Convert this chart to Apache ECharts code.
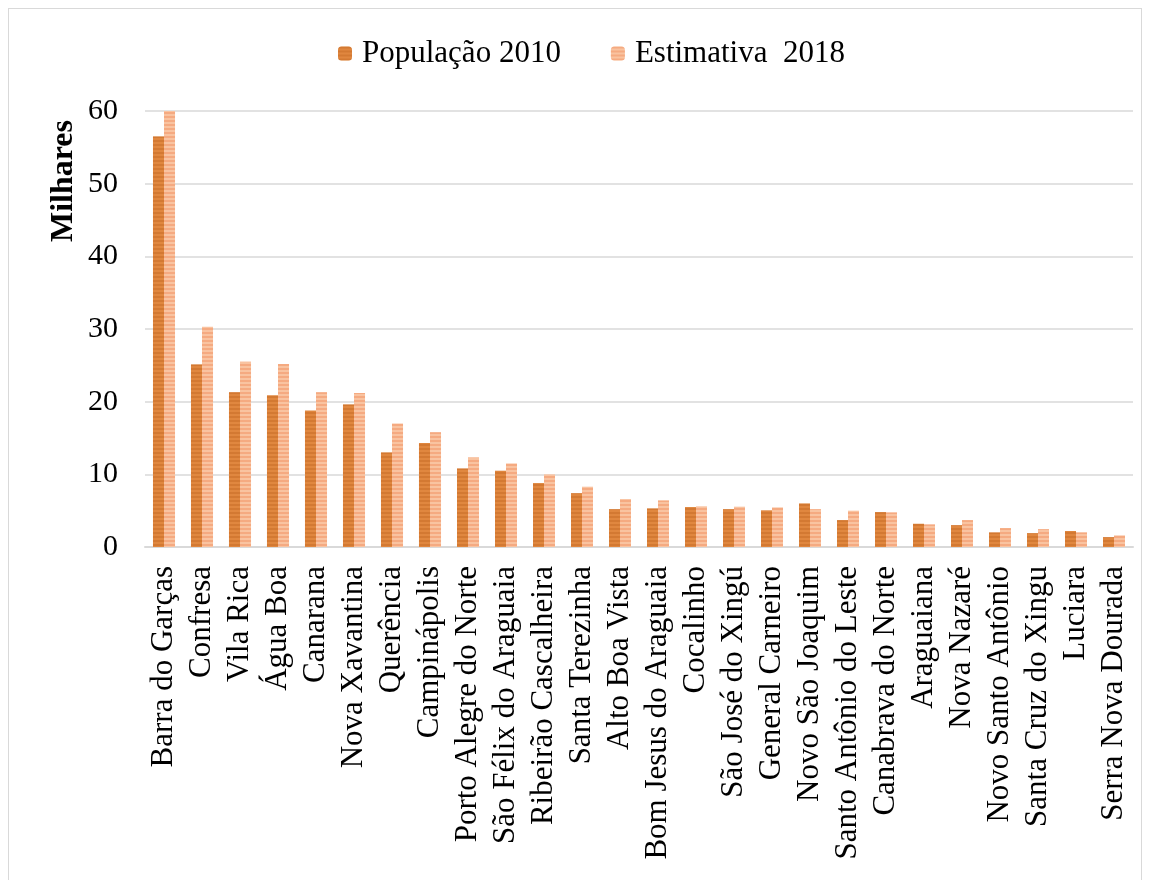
<!DOCTYPE html>
<html>
<head>
<meta charset="utf-8">
<script src="https://cdn.jsdelivr.net/npm/echarts@6/dist/echarts.min.js"></script>
<style>
html,body{margin:0;padding:0;background:#fff;}
#frame{position:absolute;left:8px;top:8px;width:1134px;height:880px;border:1px solid #d9d9d9;box-sizing:border-box;}
#chart{position:absolute;left:0;top:0;width:1150px;height:880px;}
</style>
</head>
<body>
<div id="frame"></div>
<div id="chart"></div>
<script>
const categories = ["Barra do Garças","Confresa","Vila Rica","Água Boa","Canarana","Nova Xavantina","Querência","Campinápolis","Porto Alegre do Norte","São Félix do Araguaia","Ribeirão Cascalheira","Santa Terezinha","Alto Boa Vista","Bom Jesus do Araguaia","Cocalinho","São José do Xingú","General Carneiro","Novo São Joaquim","Santo Antônio do Leste","Canabrava do Norte","Araguaiana","Nova Nazaré","Novo Santo Antônio","Santa Cruz do Xingu","Luciara","Serra Nova Dourada"];
const pop2010 = [56.5,25.1,21.3,20.9,18.8,19.6,13.0,14.3,10.8,10.5,8.8,7.4,5.2,5.3,5.5,5.2,5.05,6.0,3.7,4.8,3.2,3.0,2.0,1.9,2.2,1.35];
const est2018 = [60.1,30.3,25.5,25.2,21.3,21.2,17.0,15.8,12.3,11.5,10.0,8.3,6.6,6.4,5.6,5.55,5.45,5.2,5.0,4.75,3.1,3.7,2.6,2.45,2.0,1.6];
const yTicks = [0,10,20,30,40,50,60];
const seriesNames = ["População 2010","Estimativa  2018"];

const chart = echarts.init(document.getElementById('chart'), null, {renderer:'canvas'});
const FONT = '"Liberation Serif","Times New Roman",serif';
chart.setOption({
  animation:false,
  backgroundColor:'transparent',
  legend:{
    top:38, left:338, padding:0, itemWidth:14, itemHeight:14, itemGap:50,
    textStyle:{fontFamily:FONT,fontSize:31,color:'#000',padding:[0,0,0,5]},
    data:seriesNames
  },
  grid:{left:145,right:17,top:111,bottom:333,containLabel:false},
  xAxis:{
    type:'category', data:categories,
    axisLine:{show:true,lineStyle:{color:'#d9d9d9',width:2}},
    axisTick:{show:false},
    axisLabel:{rotate:90,interval:0,fontFamily:FONT,fontSize:31,color:'#000',margin:19}
  },
  yAxis:{
    type:'value', min:yTicks[0], max:yTicks[yTicks.length-1], interval:10,
    axisLine:{show:false}, axisTick:{show:false},
    axisLabel:{fontFamily:FONT,fontSize:30,color:'#000',margin:27},
    splitLine:{lineStyle:{color:'#d9d9d9',width:1.5}}
  },
  graphic:[{
    type:'text', left:48, top:120, rotation:Math.PI/2,
    style:{text:'Milhares',font:'bold 32px '+FONT,fill:'#000'}
  }],
  series:[
    {name:seriesNames[0],type:'bar',data:pop2010,barGap:'0%',barCategoryGap:'42%',
     itemStyle:{color:'#E0873F',decal:{symbol:'rect',symbolSize:1,dashArrayX:[1,0],dashArrayY:[2,2],color:'rgba(200,110,40,0.55)'}}},
    {name:seriesNames[1],type:'bar',data:est2018,
     itemStyle:{color:'#F9C3A0',decal:{symbol:'rect',symbolSize:1,dashArrayX:[1,0],dashArrayY:[2,2],color:'rgba(244,160,115,0.7)'}}}
  ]
});
</script>
</body>
</html>
